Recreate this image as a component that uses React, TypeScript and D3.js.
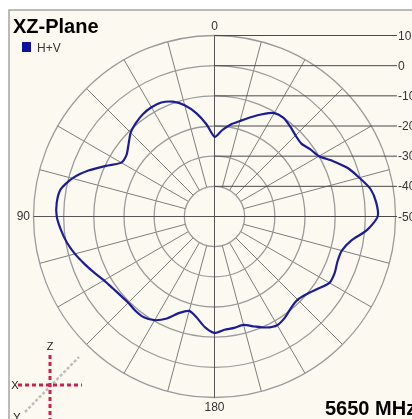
import { useMemo } from "react";
import * as d3 from "d3";

const WIDTH = 412;
const HEIGHT = 419;
const CENTER = { x: 214.5, y: 216.5 };
const RADIUS = 181;
const FONT = "'Liberation Sans', Arial, sans-serif";

// angle in degrees, counter-clockwise from top (0 top, 90 left, 180 bottom)
const ANGLES = [
  0, 5, 10, 15, 20, 25, 30, 35, 40, 45, 50, 55, 60, 65, 70, 75, 80, 85,
  90, 95, 100, 105, 110, 115, 120, 125, 130, 135, 140, 145, 150, 155, 160, 165, 170, 175,
  180, 185, 190, 195, 200, 205, 210, 215, 220, 225, 230, 235, 240, 245, 250, 255, 260, 265,
  270, 275, 280, 285, 290, 295, 300, 305, 310, 315, 320, 325, 330, 335, 340, 345, 350, 355,
];

// H+V gain in dB
const GAIN_HV = [
  -23.6, -19.3, -15.2, -11.8, -9.5, -8.3, -8.2, -8.6, -9.5, -10.7, -12.8, -14.4, -14.3, -10.3, -5.5, -1.2, 1.8, 2.5,
  2.3, 1.1, -0.3, -2.1, -4.1, -6.0, -7.7, -8.7, -9.3, -9.6, -9.2, -9.2, -10.3, -12.7, -16.0, -17.6, -16.0, -13.2,
  -11.4, -12.3, -12.5, -12.8, -11.2, -9.4, -8.4, -9.2, -10.5, -11.0, -10.0, -8.2, -6.0, -6.0, -6.6, -6.3, -4.0, 0.8,
  4.1, 3.8, 2.5, -0.3, -3.0, -6.6, -10.0, -11.2, -12.4, -12.0, -11.0, -10.1, -10.4, -12.6, -15.0, -17.2, -19.0, -21.3,
];

const RING_TICKS = [-40, -30, -20, -10, 0, 10];
const DB_LABELS = [10, 0, -10, -20, -30, -40, -50];
const SPOKE_STEP = 15;

const TITLE = "XZ-Plane";
const LEGEND = "H+V";
const FREQ = "5650 MHz";

const polar = (deg: number, r: number) => {
  const a = (deg * Math.PI) / 180;
  return [CENTER.x - r * Math.sin(a), CENTER.y - r * Math.cos(a)];
};

export default function App() {
  const rScale = useMemo(
    () => d3.scaleLinear().domain([-50, 10]).range([0, RADIUS]),
    []
  );

  const path = useMemo(() => {
    const pts: [number, number][] = ANGLES.map((a, i) => [a, GAIN_HV[i]]);
    return d3
      .lineRadial<[number, number]>()
      .angle((d) => (-d[0] * Math.PI) / 180)
      .radius((d) => rScale(d[1]))
      .curve(d3.curveCardinalClosed.tension(0.3))(pts);
  }, []);

  const rMin = rScale(-40);
  const spokes = d3.range(0, 360, SPOKE_STEP).filter((a) => a % 90 !== 0);

  return (
    <div style={{ position: "fixed", left: 0, top: 0 }}>
      <svg width={WIDTH} height={HEIGHT} style={{ display: "block" }}>
        <rect width={WIDTH} height={HEIGHT} fill="#ffffff" />
        <rect x={9} y={10} width={WIDTH} height={HEIGHT} fill="#fcfaf0" stroke="#a4a4a4" strokeWidth={1.5} />

        {/* spokes */}
        {spokes.map((a) => {
          const [x1, y1] = polar(a, rMin);
          const [x2, y2] = polar(a, RADIUS);
          return <line key={a} x1={x1} y1={y1} x2={x2} y2={y2} stroke="#6e6e6e" strokeWidth={0.9} />;
        })}

        {/* rings */}
        {RING_TICKS.map((t) => (
          <circle key={t} cx={CENTER.x} cy={CENTER.y} r={rScale(t)} fill="none" stroke="#9a9a9a" strokeWidth={1.3} />
        ))}

        {/* main axes */}
        <line x1={CENTER.x} x2={CENTER.x} y1={CENTER.y - RADIUS} y2={CENTER.y + RADIUS} stroke="#555" strokeWidth={1} />
        <line x1={CENTER.x - RADIUS} x2={CENTER.x} y1={CENTER.y} y2={CENTER.y} stroke="#555" strokeWidth={1} />

        {/* dB reference lines */}
        {DB_LABELS.map((v) => {
          const y = CENTER.y - rScale(v);
          return (
            <g key={v}>
              <line x1={CENTER.x} x2={397} y1={y} y2={y} stroke="#4a4a4a" strokeWidth={1} />
              <text x={398} y={y} dominantBaseline="central" fontSize={12} fontFamily={FONT} fill="#333">
                {v}
              </text>
            </g>
          );
        })}

        {/* angle labels */}
        <text x={CENTER.x} y={30} textAnchor="middle" fontSize={12} fontFamily={FONT} fill="#333">0</text>
        <text x={30} y={220} textAnchor="end" fontSize={12} fontFamily={FONT} fill="#333">90</text>
        <text x={CENTER.x} y={411} textAnchor="middle" fontSize={12} fontFamily={FONT} fill="#333">180</text>

        {/* pattern */}
        <path
          d={path ?? ""}
          transform={`translate(${CENTER.x},${CENTER.y})`}
          fill="none"
          stroke="#1c1c98"
          strokeWidth={2.2}
        />

        {/* title + legend */}
        <text x={13} y={33} fontSize={20} fontWeight="bold" fontFamily={FONT} fill="#000">{TITLE}</text>
        <rect x={22} y={42} width={9} height={10} fill="#1010a0" />
        <text x={37} y={52} fontSize={12} fontFamily={FONT} fill="#333">{LEGEND}</text>

        {/* frequency */}
        <text x={325} y={415} fontSize={20} fontWeight="bold" fontFamily={FONT} fill="#000">{FREQ}</text>

        {/* axis icon */}
        <line x1={25} y1={412} x2={79} y2={357} stroke="#bdbdbd" strokeWidth={2.5} strokeDasharray="3 2" />
        <line x1={18} y1={385} x2={82} y2={385} stroke="#d0204a" strokeWidth={3} strokeDasharray="4 3" />
        <line x1={50} y1={355} x2={50} y2={419} stroke="#d0204a" strokeWidth={3} strokeDasharray="4 3" />
        <text x={50} y={350} textAnchor="middle" fontSize={11} fontFamily={FONT} fill="#222">Z</text>
        <text x={15} y={389} textAnchor="middle" fontSize={11} fontFamily={FONT} fill="#222">X</text>
        <text x={17} y={421} textAnchor="middle" fontSize={11} fontFamily={FONT} fill="#222">Y</text>
      </svg>
    </div>
  );
}
